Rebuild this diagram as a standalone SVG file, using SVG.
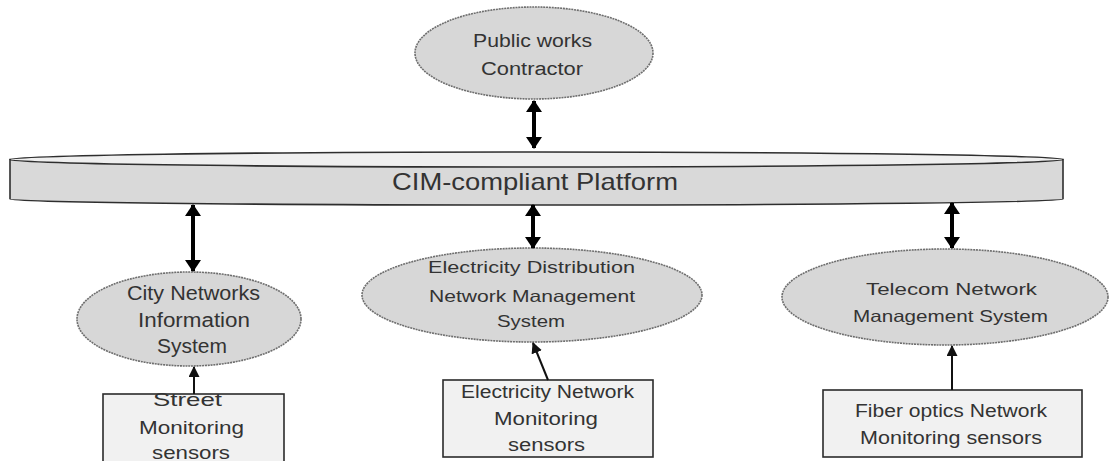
<svg xmlns="http://www.w3.org/2000/svg" width="1114" height="461" viewBox="0 0 1114 461">
<style>
.ell{fill:#d7d7d7;stroke:#6e6e6e;stroke-width:1.6;stroke-dasharray:2 0.8}
.box{fill:#f1f1f1;stroke:#2b2b2b;stroke-width:1.6}
.t{font-family:"Liberation Sans",Arial,sans-serif;fill:#333333;text-anchor:middle}
.big{stroke:#000;stroke-width:4;fill:none}
.thin{stroke:#111;stroke-width:2;fill:none}
</style>
<defs>
<marker id="hb" viewBox="0 0 12 16" markerWidth="12" markerHeight="16" refX="11" refY="8" orient="auto-start-reverse" markerUnits="userSpaceOnUse">
<path d="M0,0 L12,8 L0,16 Z" fill="#000"/>
</marker>
<marker id="hs" viewBox="0 0 11 11" markerWidth="11" markerHeight="11" refX="10" refY="5.5" orient="auto" markerUnits="userSpaceOnUse">
<path d="M0,0 L11,5.5 L0,11 Z" fill="#111"/>
</marker>
</defs>

<g id="platform">
<path d="M10,159.5 L10,199 A526.5,6 0 0 0 1063,199 L1063,159.5 Z" fill="#d9d9d9" stroke="#2e2e2e" stroke-width="1.6"/>
<ellipse cx="536.5" cy="159.5" rx="526.5" ry="7.5" fill="#efefef" stroke="#2e2e2e" stroke-width="1.6"/>
<text class="t" x="535" y="190" font-size="24" textLength="286" lengthAdjust="spacingAndGlyphs">CIM-compliant Platform</text>
</g>

<g id="contractor">
<ellipse class="ell" cx="534" cy="53" rx="119" ry="46"/>
<text class="t" x="532.5" y="47" font-size="18" textLength="119" lengthAdjust="spacingAndGlyphs">Public works</text>
<text class="t" x="532" y="75" font-size="18" textLength="102" lengthAdjust="spacingAndGlyphs">Contractor</text>
</g>

<g id="city-nis">
<ellipse class="ell" cx="189" cy="319" rx="112" ry="47"/>
<text class="t" x="193.5" y="300" font-size="20" textLength="133" lengthAdjust="spacingAndGlyphs">City Networks</text>
<text class="t" x="194" y="327" font-size="20" textLength="112" lengthAdjust="spacingAndGlyphs">Information</text>
<text class="t" x="192" y="353" font-size="20" textLength="70" lengthAdjust="spacingAndGlyphs">System</text>
</g>

<g id="electricity-dnms">
<ellipse class="ell" cx="532" cy="295" rx="170" ry="47"/>
<text class="t" x="531.5" y="273" font-size="16.5" textLength="207" lengthAdjust="spacingAndGlyphs">Electricity Distribution</text>
<text class="t" x="532" y="302" font-size="16.5" textLength="206" lengthAdjust="spacingAndGlyphs">Network Management</text>
<text class="t" x="531" y="327" font-size="16.5" textLength="68" lengthAdjust="spacingAndGlyphs">System</text>
</g>

<g id="telecom-nms">
<ellipse class="ell" cx="945" cy="297" rx="163" ry="48"/>
<text class="t" x="951.5" y="295" font-size="16.5" textLength="171" lengthAdjust="spacingAndGlyphs">Telecom  Network</text>
<text class="t" x="950.5" y="322" font-size="16.5" textLength="195" lengthAdjust="spacingAndGlyphs">Management System</text>
</g>

<g id="street-sensors">
<rect class="box" x="103" y="394" width="181" height="80"/>
<text class="t" x="187.5" y="406" font-size="18.5" textLength="69" lengthAdjust="spacingAndGlyphs">Street</text>
<text class="t" x="191.5" y="434" font-size="18.5" textLength="105" lengthAdjust="spacingAndGlyphs">Monitoring</text>
<text class="t" x="191" y="459" font-size="18.5" textLength="78" lengthAdjust="spacingAndGlyphs">sensors</text>
</g>

<g id="electricity-sensors">
<rect class="box" x="443" y="380" width="210" height="77"/>
<text class="t" x="547.5" y="398" font-size="18" textLength="173" lengthAdjust="spacingAndGlyphs">Electricity Network</text>
<text class="t" x="546" y="425" font-size="18" textLength="104" lengthAdjust="spacingAndGlyphs">Monitoring</text>
<text class="t" x="546.5" y="451" font-size="18" textLength="77" lengthAdjust="spacingAndGlyphs">sensors</text>
</g>

<g id="fiber-sensors">
<rect class="box" x="823" y="390" width="259" height="67"/>
<text class="t" x="951" y="417" font-size="18" textLength="192" lengthAdjust="spacingAndGlyphs">Fiber optics Network</text>
<text class="t" x="951" y="444" font-size="18" textLength="182" lengthAdjust="spacingAndGlyphs">Monitoring sensors</text>
</g>

<g id="connectors">
<line class="big" x1="534" y1="101" x2="534" y2="148" marker-start="url(#hb)" marker-end="url(#hb)"/>
<line class="big" x1="193" y1="205" x2="193" y2="271" marker-start="url(#hb)" marker-end="url(#hb)"/>
<line class="big" x1="533" y1="205" x2="533" y2="248" marker-start="url(#hb)" marker-end="url(#hb)"/>
<line class="big" x1="952" y1="203" x2="952" y2="248" marker-start="url(#hb)" marker-end="url(#hb)"/>
<line class="thin" x1="194" y1="394" x2="194" y2="367" marker-end="url(#hs)"/>
<line class="thin" x1="548" y1="380" x2="533" y2="343" marker-end="url(#hs)"/>
<line class="thin" x1="952" y1="390" x2="952" y2="346" marker-end="url(#hs)"/>
</g>
</svg>
